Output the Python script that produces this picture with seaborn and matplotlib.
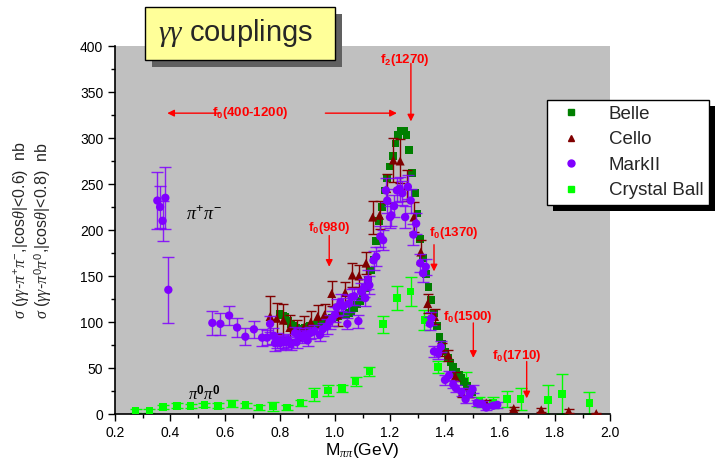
import matplotlib
matplotlib.use("Agg")
import matplotlib.pyplot as plt
from matplotlib.lines import Line2D
from matplotlib.patches import Rectangle
import pandas as pd
import seaborn as sns

# ---------------------------------------------------------------------------
# Data
# ---------------------------------------------------------------------------

belle_m = [0.80, 0.81, 0.82, 0.83, 0.84, 0.85, 0.86, 0.87, 0.88, 0.89,
           0.90, 0.91, 0.92, 0.93, 0.94, 0.95, 0.96, 0.97, 0.98, 0.99,
           1.00, 1.01, 1.02, 1.03, 1.04, 1.05, 1.06, 1.07, 1.08, 1.09,
           1.10, 1.11, 1.12, 1.13, 1.14, 1.15, 1.16, 1.17, 1.18, 1.19,
           1.20, 1.21, 1.22, 1.23, 1.24, 1.25, 1.26, 1.27, 1.28, 1.29,
           1.30, 1.31, 1.32, 1.33, 1.34, 1.35, 1.36, 1.37, 1.38, 1.39,
           1.40, 1.41, 1.42, 1.43, 1.44, 1.45, 1.46, 1.47, 1.48, 1.49, 1.50]
belle_sig = [109, 107, 105, 101, 98, 96, 94, 93, 93, 94,
             95, 96, 97, 97, 98, 99, 100, 101, 103, 104,
             105, 106, 107, 107, 108, 110, 112, 115, 119, 123,
             129, 137, 146, 156, 168, 188, 210, 225, 243, 256,
             269, 280, 294, 303, 308, 308, 303, 287, 262, 240,
             218, 190, 170, 152, 138, 124, 110, 96, 84, 76,
             68, 61, 56, 51, 46, 42, 39, 35, 31, 27, 24]

cello_m = [0.764, 0.788, 0.812, 0.836, 0.860, 0.887, 0.912, 0.937, 0.962, 0.988,
           1.012, 1.037, 1.063, 1.087, 1.113, 1.137, 1.162, 1.188, 1.212, 1.237,
           1.263, 1.287, 1.312, 1.337, 1.362, 1.388, 1.412, 1.437, 1.462, 1.488,
           1.550, 1.650, 1.750, 1.850, 1.950]
cello_sig = [106, 104, 102, 94, 91, 94, 100, 106, 108, 131,
             108, 132, 151, 150, 164, 214, 216, 245, 276, 275,
             248, 214, 176, 120, 106, 70, 64, 41, 23, 22,
             12, 6, 4.5, 3, 0.5]
cello_err = [22, 17, 18, 14, 11, 12, 12, 13, 12, 14,
             12, 11, 13, 12, 12, 18, 15, 16, 24, 24,
             17, 16, 13, 10, 8, 7, 6, 5, 4, 4,
             3, 2, 2, 2, 1]

mark2_m = [0.354, 0.364, 0.373, 0.383, 0.394, 0.554, 0.583, 0.615, 0.644, 0.674,
           0.705, 0.735, 0.753, 0.764, 0.775, 0.782, 0.790, 0.800, 0.810, 0.820,
           0.830, 0.840, 0.855, 0.860, 0.870, 0.880, 0.890, 0.900, 0.910, 0.925,
           0.945, 0.955, 0.970, 0.980, 0.990, 1.000, 1.006, 1.020, 1.030, 1.045,
           1.050, 1.060, 1.070, 1.085, 1.095, 1.105, 1.110, 1.120, 1.125, 1.140,
           1.150, 1.165, 1.175, 1.185, 1.190, 1.200, 1.205, 1.215, 1.225, 1.235,
           1.245, 1.255, 1.265, 1.275, 1.285, 1.295, 1.310, 1.320, 1.330, 1.345,
           1.350, 1.360, 1.375, 1.385, 1.400, 1.415, 1.430, 1.440, 1.460, 1.475,
           1.490, 1.500, 1.515, 1.535, 1.550, 1.575, 1.590]
mark2_sig = [232, 225, 210, 235, 135, 99, 98, 107, 94, 84,
             92, 83, 83, 98, 85, 77, 80, 77, 79, 78,
             80, 76, 88, 78, 86, 84, 86, 80, 88, 90,
             86, 92, 95, 100, 104, 108, 116, 121, 117, 98,
             120, 127, 128, 101, 133, 137, 126, 146, 140, 167,
             171, 193, 189, 243, 232, 214, 216, 226, 243, 245,
             240, 214, 247, 232, 195, 207, 164, 153, 160, 98,
             104, 68, 66, 73, 37, 42, 32, 28, 24, 16,
             22, 27, 12, 11, 7, 9, 10]
mark2_err = [31, 23, 22, 34, 36, 13, 12, 10, 10, 9,
             9, 9, 8, 9, 9, 8, 8, 7, 7, 7,
             7, 6, 7, 6, 7, 7, 7, 6, 7, 7,
             7, 7, 8, 8, 8, 8, 9, 9, 9, 6,
             9, 9, 9, 7, 9, 10, 9, 10, 10, 10,
             10, 11, 11, 13, 13, 12, 12, 12, 13, 13,
             13, 12, 13, 13, 11, 11, 10, 9, 9, 7,
             7, 6, 6, 6, 5, 5, 4, 4, 4, 4,
             4, 4, 3, 3, 3, 3, 3]

cb_m = [0.275, 0.325, 0.375, 0.425, 0.475, 0.525, 0.575, 0.625, 0.675, 0.725,
        0.775, 0.825, 0.875, 0.925, 0.975, 1.025, 1.075, 1.125, 1.175, 1.225,
        1.275, 1.325, 1.375, 1.475, 1.525, 1.575, 1.625, 1.675, 1.775, 1.825,
        1.925]
cb_sig = [3, 3, 7.5, 9, 8.5, 10, 9, 11.5, 9.5, 7,
          8.5, 7, 12, 21.5, 25.5, 28, 35.5, 46.5, 97.5, 126,
          133, 102, 51, 36, 13.5, 12.5, 16.5, 16, 15, 21.5,
          12]
cb_err = [2, 2, 2.5, 2.5, 2.5, 2.5, 2.5, 3.5, 3, 3,
          5, 3, 3, 7, 6, 4, 5, 5, 9, 13,
          15.5, 11, 6.5, 10, 5.5, 5.5, 9, 12, 16, 21.5,
          12]

# resonance labels (vertical arrows)
res_labels = [r"$\mathbf{f_0}$(980)", r"$\mathbf{f_0}$(1370)",
              r"$\mathbf{f_0}$(1500)", r"$\mathbf{f_0}$(1710)"]
res_text_x = [0.978, 1.433, 1.484, 1.662]
res_text_y = [202, 197, 105, 63]
res_mass = [0.979, 1.360, 1.503, 1.697]
res_top = [194, 184, 99, 57]
res_tip = [160, 155, 61, 17]

BELLE = "#007f00"
CELLO = "#800000"
MARK2 = "#8000ff"
CBALL = "#00ff00"
RED = "#ff0000"

# ---------------------------------------------------------------------------
# Style
# ---------------------------------------------------------------------------

sns.set_theme(style="ticks")
plt.rcParams["font.family"] = ["Liberation Sans", "DejaVu Sans"]
plt.rcParams["mathtext.fontset"] = "custom"
plt.rcParams["mathtext.rm"] = "Liberation Sans"
plt.rcParams["mathtext.bf"] = "Liberation Sans:bold"
plt.rcParams["mathtext.it"] = "Liberation Serif:italic"
plt.rcParams["mathtext.sf"] = "Liberation Sans"

fig = plt.figure(figsize=(7.15, 4.68), dpi=100)
ax = fig.add_axes([115 / 715, 54 / 468, 495 / 715, 368 / 468])
ax.set_facecolor("#c0c0c0")

belle = pd.DataFrame({"m": belle_m, "sig": belle_sig})
cello = pd.DataFrame({"m": cello_m, "sig": cello_sig, "err": cello_err})
mark2 = pd.DataFrame({"m": mark2_m, "sig": mark2_sig, "err": mark2_err})
cball = pd.DataFrame({"m": cb_m, "sig": cb_sig, "err": cb_err})

# Crystal Ball (pi0 pi0)
ax.errorbar(cball["m"], cball["sig"], yerr=cball["err"], fmt="none",
            ecolor=CBALL, elinewidth=1.0, capsize=4, capthick=1.0, zorder=2)
sns.scatterplot(data=cball, x="m", y="sig", marker="s", s=30, color=CBALL,
                edgecolor="none", ax=ax, zorder=3)

# Belle
sns.scatterplot(data=belle, x="m", y="sig", marker="s", s=32, color=BELLE,
                edgecolor="none", ax=ax, zorder=3)

# Cello
ax.errorbar(cello["m"], cello["sig"], yerr=cello["err"], fmt="none",
            ecolor=CELLO, elinewidth=1.0, capsize=3.5, capthick=1.0, zorder=4)
sns.scatterplot(data=cello, x="m", y="sig", marker="^", s=42, color=CELLO,
                edgecolor="none", ax=ax, zorder=5)

# MarkII
ax.errorbar(mark2["m"], mark2["sig"], yerr=mark2["err"], fmt="none",
            ecolor=MARK2, elinewidth=1.0, capsize=4.5, capthick=1.0,
            alpha=0.85, zorder=6)
sns.scatterplot(data=mark2, x="m", y="sig", marker="o", s=36, color=MARK2,
                edgecolor="none", ax=ax, zorder=7)

ax.set_xlim(0.2, 2.0)
ax.set_ylim(0, 400)
ax.set_xticks([0.2, 0.4, 0.6, 0.8, 1.0, 1.2, 1.4, 1.6, 1.8, 2.0])
ax.set_xticks([0.3, 0.5, 0.7, 0.9, 1.1, 1.3, 1.5, 1.7, 1.9], minor=True)
ax.set_yticks([0, 50, 100, 150, 200, 250, 300, 350, 400])
ax.set_yticks([25, 75, 125, 175, 225, 275, 325, 375], minor=True)
ax.tick_params(which="major", direction="out", length=5, width=1,
               labelsize=10, color="black", labelcolor="black")
ax.tick_params(which="minor", direction="out", length=3, width=1, color="black")
for side in ("top", "right"):
    ax.spines[side].set_visible(False)
for side in ("left", "bottom"):
    ax.spines[side].set_color("black")
    ax.spines[side].set_linewidth(1.2)

ax.set_xlabel(r"M$_{\pi\pi}$(GeV)", fontsize=12.5, color="black", labelpad=1)
ax.set_ylabel("")
fig.text(21 / 715, 0.507, r"$\sigma$ ($\gamma\gamma$-$\pi^{+}\pi^{-}$,|cos$\theta$|<0.6)  nb",
         rotation=90, ha="center", va="center", fontsize=11.5)
fig.text(43 / 715, 0.507, r"$\sigma$ ($\gamma\gamma$-$\pi^{0}\pi^{0}$,|cos$\theta$|<0.8)  nb",
         rotation=90, ha="center", va="center", fontsize=11.5)

# channel labels
ax.text(0.46, 217, r"$\pi^{+}\pi^{-}$", fontsize=13, color="black", ha="left", va="center")
ax.text(0.465, 22, r"$\pi^{\mathbf{0}}\pi^{\mathbf{0}}$", fontsize=12, color="black",
        ha="left", va="center")

# resonance arrows
akw = dict(arrowstyle="-|>", color=RED, lw=1.0, mutation_scale=10, shrinkA=0, shrinkB=0)
ax.text(0.69, 327, r"$\mathbf{f_0}$(400-1200)", color=RED,
        fontsize=9.5, fontweight="bold", ha="center", va="center")
ax.annotate("", xy=(0.39, 327), xytext=(0.58, 327), arrowprops=akw)
ax.annotate("", xy=(1.225, 327), xytext=(0.965, 327), arrowprops=akw)

ax.text(1.255, 385, r"$\mathbf{f_2}$(1270)", color=RED, fontsize=9.5,
        fontweight="bold", ha="center", va="center")
ax.annotate("", xy=(1.276, 318), xytext=(1.276, 381), arrowprops=akw)

for lab, tx, ty, m, top, tip in zip(res_labels, res_text_x, res_text_y,
                                    res_mass, res_top, res_tip):
    ax.text(tx, ty, lab, color=RED, fontsize=9.5, fontweight="bold",
            ha="center", va="center")
    ax.annotate("", xy=(m, tip), xytext=(m, top), arrowprops=akw)

# title box with drop shadow
fig.patches.append(Rectangle((152 / 715, 1 - 67 / 468), 190 / 715, 53 / 468,
                             transform=fig.transFigure, facecolor="#606060",
                             edgecolor="none", zorder=4))
fig.patches.append(Rectangle((145 / 715, 1 - 60 / 468), 190 / 715, 53 / 468,
                             transform=fig.transFigure, facecolor="#ffff99",
                             edgecolor="black", lw=1, zorder=5))
fig.text(158 / 715, 1 - 33 / 468, r"$\gamma\gamma$ couplings", fontsize=21,
         ha="left", va="center", zorder=6)

# legend with hard black shadow
handles = [
    Line2D([], [], ls="none", marker="s", ms=5, color=BELLE),
    Line2D([], [], ls="none", marker="^", ms=5, color=CELLO),
    Line2D([], [], ls="none", marker="o", ms=5, color=MARK2),
    Line2D([], [], ls="none", marker="s", ms=5, color=CBALL),
]
leg = fig.legend(handles, ["Belle", "Cello", "MarkII", "Crystal Ball"],
                 loc="upper left", bbox_to_anchor=(547 / 715, 1 - 100 / 468),
                 frameon=True, fancybox=False, framealpha=1, edgecolor="black",
                 fontsize=13.5, borderpad=0.3, labelspacing=0.45,
                 handletextpad=1.0, handlelength=2.0, borderaxespad=0)
leg.get_frame().set_linewidth(1.0)
leg.set_zorder(8)
fig.canvas.draw()
bb = leg.get_window_extent()
W, H = fig.bbox.width, fig.bbox.height
fig.patches.append(Rectangle(((bb.x0 + 6) / W, (bb.y0 - 6) / H), bb.width / W, bb.height / H,
                             transform=fig.transFigure, facecolor="black",
                             edgecolor="none", zorder=7))

fig.savefig("out.png", dpi=100)
plt.close(fig)
